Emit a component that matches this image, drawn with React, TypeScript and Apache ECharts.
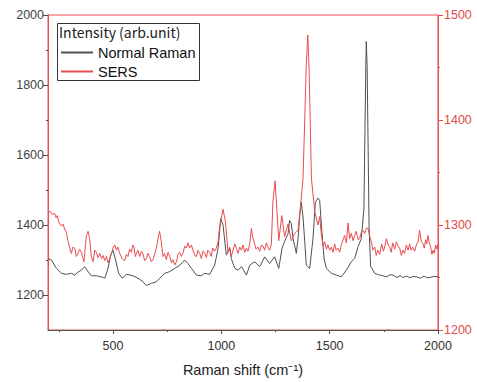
import React, { useEffect, useRef } from "react";
import * as echarts from "echarts";

// Raman shift (cm^-1) and intensity for the normal Raman spectrum (left axis)
const normalShift = [200, 216, 239, 262, 285, 308, 323, 338, 354, 369, 385, 400, 423, 446, 462, 477, 489, 500, 512, 526, 542, 562, 577, 592, 615, 638, 654, 677, 700, 723, 739, 762, 785, 808, 831, 846, 862, 885, 908, 923, 946, 969, 985, 997, 1008, 1023, 1039, 1046, 1062, 1077, 1093, 1116, 1131, 1154, 1177, 1200, 1223, 1246, 1265, 1280, 1292, 1308, 1315, 1323, 1331, 1346, 1354, 1362, 1369, 1377, 1385, 1392, 1408, 1423, 1434, 1446, 1454, 1462, 1474, 1485, 1508, 1531, 1554, 1577, 1600, 1615, 1631, 1646, 1658, 1663, 1667, 1669, 1673, 1677, 1682, 1689, 1708, 1725, 1745, 1762, 1780, 1792, 1810, 1825, 1837, 1855, 1870, 1885, 1900, 1920, 1935, 1950, 1962, 1980, 2000];
const normalIntensity = [1304, 1300, 1276, 1262, 1259, 1262, 1257, 1265, 1271, 1281, 1267, 1255, 1255, 1252, 1248, 1276, 1314, 1328, 1300, 1262, 1248, 1259, 1257, 1255, 1248, 1238, 1227, 1233, 1238, 1252, 1262, 1267, 1276, 1285, 1300, 1290, 1276, 1257, 1255, 1262, 1259, 1285, 1333, 1418, 1399, 1314, 1333, 1304, 1276, 1271, 1281, 1257, 1285, 1295, 1281, 1309, 1290, 1309, 1276, 1333, 1353, 1375, 1413, 1404, 1361, 1319, 1361, 1427, 1465, 1423, 1352, 1285, 1276, 1361, 1465, 1477, 1470, 1399, 1304, 1276, 1262, 1257, 1252, 1271, 1295, 1304, 1338, 1361, 1446, 1674, 1858, 1924, 1850, 1645, 1390, 1282, 1262, 1258, 1255, 1252, 1258, 1257, 1250, 1255, 1250, 1254, 1249, 1253, 1252, 1248, 1254, 1249, 1250, 1253, 1252];

// SERS spectrum (right axis)
const sersShift = [200, 212, 220, 231, 237, 243, 248, 254, 262, 269, 277, 285, 292, 300, 308, 315, 323, 331, 338, 346, 354, 360, 366, 371, 377, 385, 392, 400, 408, 416, 423, 431, 439, 447, 454, 462, 470, 477, 485, 492, 500, 508, 516, 523, 531, 542, 554, 562, 569, 577, 585, 591, 597, 603, 608, 615, 623, 631, 638, 646, 654, 661, 669, 677, 685, 692, 700, 708, 715, 723, 731, 738, 746, 754, 762, 770, 777, 785, 793, 800, 808, 816, 823, 831, 839, 846, 854, 862, 869, 877, 885, 892, 900, 908, 915, 923, 931, 938, 946, 954, 960, 969, 977, 985, 992, 1008, 1019, 1031, 1038, 1046, 1054, 1062, 1069, 1077, 1085, 1093, 1100, 1108, 1116, 1123, 1131, 1139, 1145, 1151, 1160, 1169, 1177, 1185, 1192, 1200, 1208, 1215, 1223, 1231, 1238, 1248, 1254, 1265, 1279, 1292, 1308, 1323, 1339, 1354, 1366, 1377, 1385, 1392, 1399, 1405, 1410, 1416, 1431, 1446, 1454, 1462, 1470, 1477, 1485, 1492, 1500, 1508, 1515, 1523, 1530, 1538, 1546, 1554, 1562, 1569, 1577, 1585, 1592, 1600, 1608, 1615, 1623, 1631, 1638, 1646, 1654, 1662, 1669, 1677, 1684, 1692, 1700, 1708, 1715, 1722, 1731, 1740, 1748, 1755, 1762, 1770, 1777, 1784, 1791, 1800, 1808, 1815, 1823, 1831, 1838, 1846, 1854, 1862, 1869, 1876, 1883, 1892, 1900, 1908, 1915, 1923, 1931, 1937, 1943, 1948, 1954, 1960, 1966, 1972, 1977, 1983, 1989, 1995, 2000];
const sersIntensity = [1312, 1313, 1310, 1311, 1307, 1309, 1304, 1301, 1299, 1301, 1296, 1293, 1285, 1278, 1273, 1279, 1278, 1270, 1273, 1277, 1274, 1269, 1265, 1277, 1290, 1294, 1287, 1270, 1265, 1276, 1274, 1269, 1273, 1268, 1271, 1266, 1270, 1264, 1268, 1272, 1278, 1281, 1276, 1279, 1273, 1268, 1266, 1272, 1270, 1277, 1274, 1281, 1279, 1270, 1273, 1276, 1270, 1275, 1273, 1266, 1268, 1273, 1270, 1265, 1267, 1272, 1278, 1287, 1294, 1284, 1270, 1273, 1267, 1274, 1270, 1264, 1267, 1262, 1265, 1272, 1274, 1270, 1273, 1280, 1278, 1283, 1278, 1281, 1276, 1271, 1270, 1276, 1273, 1268, 1275, 1274, 1269, 1276, 1274, 1270, 1278, 1275, 1278, 1284, 1298, 1315, 1303, 1274, 1279, 1270, 1276, 1282, 1278, 1273, 1279, 1276, 1281, 1274, 1278, 1275, 1282, 1297, 1288, 1284, 1277, 1279, 1275, 1281, 1280, 1276, 1283, 1279, 1276, 1282, 1322, 1342, 1322, 1285, 1309, 1289, 1301, 1285, 1292, 1295, 1319, 1344, 1401, 1453, 1481, 1448, 1401, 1344, 1313, 1300, 1308, 1290, 1280, 1284, 1277, 1281, 1276, 1279, 1274, 1282, 1276, 1278, 1274, 1281, 1286, 1290, 1283, 1302, 1287, 1292, 1285, 1290, 1294, 1286, 1287, 1293, 1295, 1292, 1297, 1297, 1290, 1284, 1276, 1279, 1271, 1276, 1272, 1282, 1275, 1280, 1287, 1281, 1279, 1274, 1283, 1277, 1284, 1280, 1278, 1271, 1276, 1273, 1281, 1276, 1282, 1276, 1279, 1275, 1281, 1284, 1295, 1284, 1282, 1278, 1286, 1282, 1290, 1283, 1279, 1272, 1276, 1273, 1281, 1277, 1282];

const xMajorTicks = [500, 1000, 1500, 2000];
const xMinorTicks = [250, 750, 1250, 1750];
const leftMajorTicks = [1200, 1400, 1600, 1800, 2000];
const leftMinorTicks = [1300, 1500, 1700, 1900];

const seriesNames = ["Normal Raman", "SERS"];
const legendTitle = "Intensity (arb.unit)";
const xAxisTitle = "Raman shift (cm\u207B\u00B9)";

const RED = "#ea4c50";
const RED_TEXT = "#e04a4a";
const GRAY = "#505050";

export default function App() {
  const ref = useRef<HTMLDivElement>(null);
  useEffect(() => {
    if (!ref.current) return;
    const chart = echarts.init(ref.current, null, { renderer: "svg" });
    const font = "'Liberation Sans', Arial, sans-serif";
    const plain = (v: number) => String(v);
    const option: any = {
      animation: false,
      backgroundColor: "#ffffff",
      textStyle: { fontFamily: font },
      grid: {
        left: 48,
        right: 39,
        top: 15,
        bottom: 50,
        show: true,
        borderColor: RED,
        borderWidth: 1,
        backgroundColor: "transparent",
      },
      legend: {
        show: true,
        orient: "vertical",
        left: 60,
        top: 45,
        padding: 0,
        itemWidth: 32,
        itemHeight: 14,
        itemGap: 4,
        itemStyle: { opacity: 0 },
        textStyle: { fontSize: 14.5, color: "#111", fontFamily: font },
        data: seriesNames,
      },
      graphic: [
        {
          type: "rect",
          left: 57,
          top: 23,
          shape: { width: 142, height: 57 },
          style: { fill: "#fff", stroke: "#333", lineWidth: 1 },
          z: 1,
        },
        {
          type: "text",
          left: 59,
          top: 25,
          style: {
            text: legendTitle,
            fontSize: 14,
            fill: "#222",
            fontFamily: "'Noto Sans CJK JP', 'Noto Sans', sans-serif",
          },
          z: 2,
        },
      ],
      xAxis: [
        {
          type: "value",
          min: 200,
          max: 2000,
          position: "bottom",
          name: xAxisTitle,
          nameLocation: "middle",
          nameGap: 32,
          nameTextStyle: { fontSize: 14.5, color: "#222", fontFamily: font },
          axisLine: { show: true, lineStyle: { color: GRAY, width: 1 } },
          axisTick: { show: true, length: 4, customValues: xMajorTicks, lineStyle: { color: GRAY } },
          axisLabel: { customValues: xMajorTicks, formatter: plain, fontSize: 12.5, color: "#333", margin: 9 },
          splitLine: { show: false },
        },
        {
          type: "value",
          min: 200,
          max: 2000,
          position: "bottom",
          axisLine: { show: false },
          axisTick: { show: true, length: 2, customValues: xMinorTicks, lineStyle: { color: GRAY } },
          axisLabel: { show: false },
          splitLine: { show: false },
        },
      ],
      yAxis: [
        {
          type: "value",
          min: 1100,
          max: 2000,
          position: "left",
          axisLine: { show: true, lineStyle: { color: RED, width: 1 } },
          axisTick: { show: true, length: 5, customValues: leftMajorTicks, lineStyle: { color: GRAY } },
          axisLabel: { customValues: leftMajorTicks, formatter: plain, fontSize: 12.5, color: "#444", margin: 4 },
          splitLine: { show: false },
        },
        {
          type: "value",
          min: 1200,
          max: 1500,
          interval: 100,
          position: "right",
          axisLine: { show: true, lineStyle: { color: RED, width: 1 } },
          axisTick: { show: true, length: 5, lineStyle: { color: RED } },
          minorTick: { show: true, splitNumber: 2, length: 2, lineStyle: { color: RED } },
          axisLabel: { formatter: plain, fontSize: 12.5, color: RED_TEXT, margin: 6 },
          splitLine: { show: false },
        },
        {
          type: "value",
          min: 1100,
          max: 2000,
          position: "left",
          axisLine: { show: false },
          axisTick: { show: true, length: 2, customValues: leftMinorTicks, lineStyle: { color: GRAY } },
          axisLabel: { show: false },
          splitLine: { show: false },
        },
      ],
      series: [
        {
          name: seriesNames[0],
          type: "line",
          xAxisIndex: 0,
          yAxisIndex: 0,
          data: normalShift.map((x, i) => [x, normalIntensity[i]]),
          symbol: "none",
          showSymbol: false,
          lineStyle: { color: GRAY, width: 1 },
          itemStyle: { color: GRAY },
          z: 3,
        },
        {
          name: seriesNames[1],
          type: "line",
          xAxisIndex: 0,
          yAxisIndex: 1,
          data: sersShift.map((x, i) => [x, sersIntensity[i]]),
          symbol: "none",
          showSymbol: false,
          lineStyle: { color: RED, width: 1 },
          itemStyle: { color: RED },
          z: 3,
        },
      ],
    };
    chart.setOption(option);
    return () => chart.dispose();
  }, []);
  return (
    <div
      ref={ref}
      style={{ position: "absolute", left: 0, top: 0, width: 477, height: 382, background: "#fff" }}
    />
  );
}
